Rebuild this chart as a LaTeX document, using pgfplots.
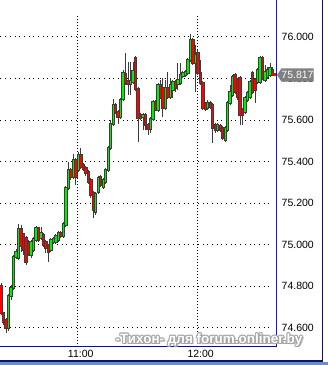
\documentclass[border=0pt]{standalone}
\usepackage{fontspec}
\setmainfont{Liberation Sans}
\usepackage{pgfplots}
\usepackage{pgfplotstable}
\pgfplotsset{compat=1.18}
\definecolor{wick}{HTML}{3C3C3C}
\definecolor{upc}{HTML}{00F000}
\definecolor{dnc}{HTML}{FF0000}
\definecolor{axblue}{HTML}{1414C8}
\definecolor{navy}{HTML}{10106E}
\definecolor{band}{HTML}{6E8EC0}
\definecolor{lbl}{HTML}{808080}

\pgfplotstableread{
x O H L C
0 74.800 74.814 74.660 74.670
1 74.670 74.674 74.612 74.626
2 74.636 74.645 74.573 74.597
3 74.597 74.761 74.583 74.751
4 74.751 74.805 74.732 74.790
5 74.790 74.949 74.780 74.939
6 74.939 74.978 74.930 74.964
7 74.935 75.098 74.925 75.075
8 75.075 75.094 74.964 74.992
9 75.050 75.055 74.949 74.973
10 75.031 75.041 74.901 74.915
11 75.007 75.021 74.944 74.959
12 74.949 75.021 74.935 75.012
13 74.973 75.036 74.964 75.026
14 75.021 75.089 75.012 75.079
15 75.079 75.084 75.012 75.021
16 75.031 75.084 75.021 75.055
17 75.045 75.055 74.988 74.997
18 75.012 75.021 74.959 74.983
19 74.992 75.002 74.915 74.964
20 74.973 75.031 74.964 75.021
21 75.012 75.036 75.002 75.026
22 75.012 75.050 75.002 75.041
23 75.021 75.065 75.012 75.055
24 75.055 75.065 75.031 75.041
25 75.041 75.108 75.031 75.098
26 75.094 75.282 75.084 75.272
27 75.272 75.397 75.262 75.359
28 75.359 75.368 75.311 75.325
29 75.325 75.436 75.315 75.407
30 75.407 75.417 75.287 75.325
31 75.359 75.445 75.349 75.431
32 75.431 75.465 75.364 75.373
33 75.383 75.392 75.354 75.364
34 75.368 75.378 75.330 75.344
35 75.349 75.359 75.291 75.301
36 75.311 75.320 75.224 75.238
37 75.248 75.258 75.127 75.166
38 75.156 75.253 75.142 75.243
39 75.253 75.330 75.243 75.320
40 75.325 75.335 75.277 75.287
41 75.277 75.320 75.267 75.311
42 75.301 75.368 75.291 75.359
43 75.359 75.474 75.349 75.465
44 75.465 75.600 75.455 75.580
45 75.580 75.701 75.571 75.672
46 75.672 75.682 75.629 75.638
47 75.638 75.648 75.580 75.614
48 75.614 75.706 75.605 75.696
49 75.701 75.841 75.691 75.826
50 75.821 75.923 75.768 75.778
51 75.788 75.879 75.720 75.773
52 75.773 75.879 75.720 75.788
53 75.783 75.879 75.773 75.836
54 75.898 75.908 75.739 75.749
55 75.749 75.759 75.494 75.609
56 75.624 75.633 75.600 75.609
57 75.614 75.633 75.551 75.624
58 75.624 75.633 75.551 75.576
59 75.576 75.585 75.528 75.555
60 75.555 75.614 75.537 75.605
61 75.605 75.696 75.595 75.686
62 75.686 75.696 75.643 75.653
63 75.648 75.778 75.638 75.768
64 75.768 75.793 75.701 75.711
65 75.754 75.802 75.614 75.658
66 75.658 75.793 75.648 75.754
67 75.754 75.831 75.701 75.711
68 75.711 75.802 75.701 75.768
69 75.744 75.793 75.706 75.783
70 75.783 75.793 75.735 75.754
71 75.773 75.874 75.744 75.793
72 75.778 75.874 75.768 75.817
73 75.812 75.836 75.802 75.826
74 75.817 75.841 75.807 75.831
75 75.826 75.898 75.817 75.889
76 75.889 76.014 75.879 75.985
77 75.985 75.995 75.865 75.874
78 75.874 75.961 75.735 75.913
79 75.923 75.937 75.817 75.826
80 75.826 75.889 75.768 75.778
81 75.778 75.788 75.648 75.658
82 75.677 75.686 75.643 75.653
83 75.658 75.696 75.648 75.682
84 75.682 75.691 75.653 75.662
85 75.672 75.682 75.489 75.561
86 75.576 75.585 75.537 75.551
87 75.551 75.585 75.542 75.576
88 75.571 75.580 75.542 75.551
89 75.561 75.571 75.503 75.513
90 75.503 75.571 75.494 75.561
91 75.551 75.691 75.542 75.682
92 75.682 75.768 75.672 75.735
93 75.720 75.817 75.711 75.807
94 75.817 75.826 75.725 75.735
95 75.793 75.802 75.696 75.711
96 75.802 75.812 75.576 75.624
97 75.648 75.658 75.576 75.624
98 75.638 75.715 75.629 75.706
99 75.696 75.739 75.686 75.730
100 75.711 75.793 75.701 75.783
101 75.826 75.836 75.725 75.735
102 75.793 75.802 75.682 75.744
103 75.783 75.850 75.773 75.841
104 75.783 75.908 75.773 75.898
105 75.898 75.908 75.793 75.802
106 75.793 75.865 75.783 75.831
107 75.807 75.855 75.797 75.841
108 75.817 75.874 75.807 75.850
109 75.841 75.855 75.812 75.817
}\candles

\begin{document}
\begin{tikzpicture}
\useasboundingbox (0,0) rectangle (328pt,365pt);
\begin{axis}[
  at={(0pt,18pt)}, anchor=south west,
  scale only axis, width=276pt, height=347pt,
  xmin=-0.48, xmax=110.4, ymin=74.506, ymax=76.178,
  axis line style={draw=none},
  major tick length=0pt,
  xtick={30.45,78.66}, xticklabels={11:00,12:00},
  ytick={74.6,74.8,75.0,75.2,75.4,75.6,75.8,76.0},
  yticklabel pos=right,
  scaled y ticks=false,
  yticklabel style={/pgf/number format/fixed, /pgf/number format/fixed zerofill, /pgf/number format/precision=3, /pgf/number format/assume math mode=true,
    anchor=west, inner sep=0pt, xshift=5.5pt, font=\fontsize{10.5}{12}\selectfont},
  xticklabel style={anchor=north, inner sep=0pt, yshift=-3pt, xshift=3.7pt, font=\fontsize{10.5}{12}\selectfont},
]
\pgfplotsinvokeforeach{74.6,74.8,75.0,75.2,75.4,75.6,75.8,76.0}{
  \draw[black, line width=0.9pt, dash pattern=on 0.9pt off 3.8pt] (axis cs:-0.3,#1) -- (axis cs:108.8,#1);
}
\draw[black, line width=0.9pt, dash pattern=on 0.9pt off 2.1pt] (axis cs:30.45,74.506) -- (axis cs:30.45,76.106);
\draw[black, line width=0.9pt, dash pattern=on 0.9pt off 2.1pt] (axis cs:78.66,74.506) -- (axis cs:78.66,76.106);

% wicks
\addplot[draw=none, mark=none, forget plot,
  error bars/.cd, y dir=both, y explicit, error mark=none,
  error bar style={draw=wick, line width=1pt}]
  table[x=x, y expr={0.5*(\thisrow{H}+\thisrow{L})}, y error expr={0.5*(\thisrow{H}-\thisrow{L})}] {\candles};
% body outlines
\addplot[draw=none, mark=none, forget plot,
  error bars/.cd, y dir=both, y explicit, error mark=none,
  error bar style={draw=wick, line width=3.4pt, line cap=butt}]
  table[x=x, y expr={0.5*(\thisrow{O}+\thisrow{C})}, y error expr={0.5*abs(\thisrow{O}-\thisrow{C})+0.0048}] {\candles};
% up bodies
\addplot[draw=none, mark=none, forget plot,
  error bars/.cd, y dir=both, y explicit, error mark=none,
  error bar style={draw=upc, line width=1.4pt, line cap=butt}]
  table[x=x, y expr={0.5*(\thisrow{O}+\thisrow{C})}, y error expr={0.5*max(\thisrow{C}-\thisrow{O},0)}] {\candles};
% down bodies
\addplot[draw=none, mark=none, forget plot,
  error bars/.cd, y dir=both, y explicit, error mark=none,
  error bar style={draw=dnc, line width=1.4pt, line cap=butt}]
  table[x=x, y expr={0.5*(\thisrow{O}+\thisrow{C})}, y error expr={0.5*max(\thisrow{O}-\thisrow{C},0)}] {\candles};
\end{axis}

% frames
\draw[axblue, line width=1.2pt] (276.5pt,18pt) -- (276.5pt,365pt);
\draw[navy, line width=1pt] (0pt,18pt) -- (276.5pt,18pt);
\draw[navy, line width=1pt] (322pt,4pt) -- (322pt,365pt);
\draw[navy, line width=1.3pt] (0pt,4pt) -- (322.5pt,4pt);
\fill[band] (0pt,0pt) rectangle (328pt,3pt);

% current price label
\fill[dnc] (273pt,288.5pt) rectangle (275.5pt,291.5pt);
\fill[lbl] (277pt,290pt) -- (281.5pt,296.7pt) -- (313.5pt,296.7pt) -- (313.5pt,283.3pt) -- (281.5pt,283.3pt) -- cycle;
\node[white, inner sep=0pt, font=\fontsize{10.5}{12}\selectfont] at (297.5pt,290pt) {75.817};

% watermark
\foreach \dx/\dy in {1/0,-1/0,0/1,0/-1,0.8/0.8,-0.8/0.8,0.8/-0.8,-0.8/-0.8,1.6/-1.2} {
  \node[gray!70, inner sep=0pt, font=\bfseries\fontsize{13.5}{15}\selectfont] at ([xshift=\dx pt, yshift=\dy pt]209pt,25pt) {-Тихон- для forum.onliner.by};
}
\node[white, inner sep=0pt, font=\bfseries\fontsize{13.5}{15}\selectfont] at (209pt,25pt) {-Тихон- для forum.onliner.by};
\end{tikzpicture}
\end{document}
